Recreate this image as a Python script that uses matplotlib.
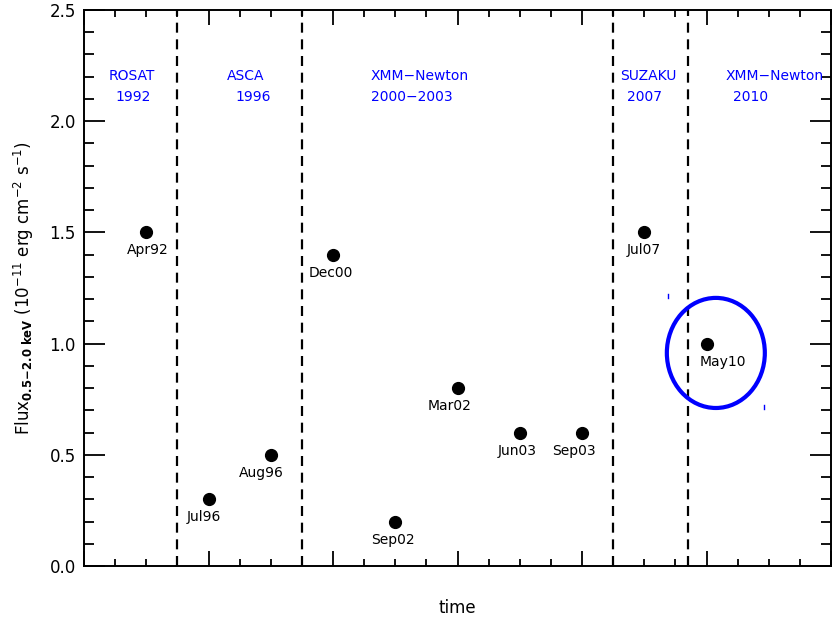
import matplotlib
matplotlib.use("Agg")
import matplotlib.pyplot as plt
from matplotlib.patches import Ellipse
from matplotlib.ticker import MultipleLocator

# ---- data ----
positions = [1, 2, 3, 4, 5, 6, 7, 8, 9, 10]
flux = [1.5, 0.3, 0.5, 1.4, 0.2, 0.8, 0.6, 0.6, 1.5, 1.0]
obs_labels = ["Apr92", "Jul96", "Aug96", "Dec00", "Sep02", "Mar02", "Jun03", "Sep03", "Jul07", "May10"]
label_dx = [2, -5, -9, -2, -2, -8, -3, -8, 0, 16]  # pixel offsets of labels

boundaries = [1.5, 3.5, 8.5, 9.7]
missions = ["ROSAT", "ASCA", "XMM\u2212Newton", "SUZAKU", "XMM\u2212Newton"]
years = ["1992", "1996", "2000\u22122003", "2007", "2010"]
mission_x = [0.40, 2.30, 4.61, 8.61, 10.31]
year_x = [0.51, 2.43, 4.61, 8.72, 10.43]

ellipse_center = (10.15, 0.958)
ellipse_w, ellipse_h = 1.574, 0.495

fig = plt.figure(figsize=(8.32, 6.2), dpi=100)
ax = fig.add_axes([84/832, 1 - 566/620, 747/832, 556/620])

ax.set_xlim(0, 12)
ax.set_ylim(0, 2.5)

for b in boundaries:
    ax.axvline(b, color="black", lw=1.6, ls=(0, (4.5, 3)))

ax.plot(positions, flux, "o", color="black", ms=8.5, zorder=3)
for x, y, lab, dx in zip(positions, flux, obs_labels, label_dx):
    ax.annotate(lab, (x, y), xytext=(dx * 0.72, -13), textcoords="offset points",
                ha="center", va="center", fontsize=10, color="black")

for m, yv, mx, yx in zip(missions, years, mission_x, year_x):
    ax.text(mx, 2.204, m, color="blue", fontsize=10, ha="left", va="center")
    ax.text(yx, 2.107, yv, color="blue", fontsize=10, ha="left", va="center")

ax.add_patch(Ellipse(ellipse_center, ellipse_w, ellipse_h, fill=False,
                     edgecolor="blue", lw=3, zorder=4))
# small blue marks
ax.plot([9.38, 9.38], [1.205, 1.222], color="blue", lw=1)
ax.plot([10.92, 10.92], [0.705, 0.722], color="blue", lw=1)

ax.xaxis.set_major_locator(MultipleLocator(2))
ax.xaxis.set_minor_locator(MultipleLocator(0.5))
ax.yaxis.set_major_locator(MultipleLocator(0.5))
ax.yaxis.set_minor_locator(MultipleLocator(0.1))
ax.tick_params(axis="x", which="both", direction="in", top=True, bottom=True, labelbottom=False)
ax.tick_params(axis="x", which="major", length=11, width=1.3)
ax.tick_params(axis="x", which="minor", length=5, width=1.3)
ax.tick_params(axis="y", which="both", direction="in", left=True, right=True)
ax.tick_params(axis="y", which="major", length=15, width=1.3, labelsize=12, pad=6)
ax.tick_params(axis="y", which="minor", length=7, width=1.3)
ax.yaxis.set_major_formatter(matplotlib.ticker.FormatStrFormatter("%.1f"))
for s in ax.spines.values():
    s.set_linewidth(1.4)

ax.set_xlabel("time", fontsize=12)
ax.xaxis.set_label_coords(0.5, -0.0755)
ax.xaxis.label.set_verticalalignment("center")
ax.set_ylabel(r"Flux$_{\mathbf{0.5\!-\!2.0\ keV}}$ (10$^{-11}$ erg cm$^{-2}$ s$^{-1}$)", fontsize=12)
ax.yaxis.set_label_coords(-0.08, 0.5)
ax.yaxis.label.set_verticalalignment("center")

fig.savefig("out.png", dpi=100)
